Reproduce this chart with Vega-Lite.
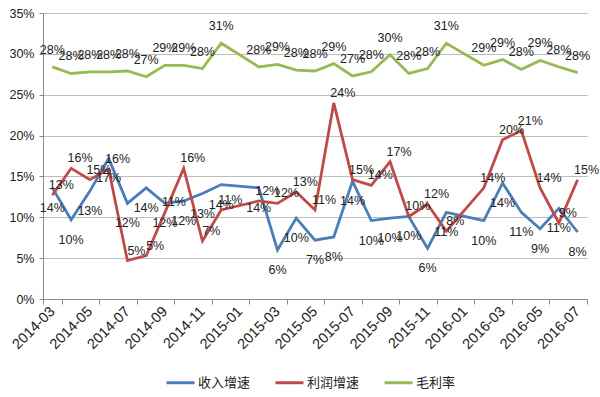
{
  "$schema": "https://vega.github.io/schema/vega-lite/v6.json",
  "width": 544,
  "height": 286,
  "autosize": {"type": "none"},
  "padding": {"left": 43, "top": 13, "right": 13, "bottom": 98},
  "background": "white",
  "config": {
    "font": "Liberation Sans",
    "view": {"stroke": null},
    "axis": {"labelFont": "Liberation Sans", "labelFontSize": 12, "labelColor": "#222", "domainColor": "#8c8c8c", "tickColor": "#8c8c8c", "title": null}
  },
  "datasets": {
    "rows": [
      {"m": "2014-03", "s": "收入增速", "v": 0.136}, {"m": "2014-04", "s": "收入增速", "v": 0.097}, {"m": "2014-05", "s": "收入增速", "v": 0.132}, {"m": "2014-06", "s": "收入增速", "v": 0.172}, {"m": "2014-07", "s": "收入增速", "v": 0.117}, {"m": "2014-08", "s": "收入增速", "v": 0.136}, {"m": "2014-09", "s": "收入增速", "v": 0.117}, {"m": "2014-10", "s": "收入增速", "v": 0.12}, {"m": "2014-11", "s": "收入增速", "v": 0.129}, {"m": "2014-12", "s": "收入增速", "v": 0.14}, {"m": "2015-02", "s": "收入增速", "v": 0.136}, {"m": "2015-03", "s": "收入增速", "v": 0.06}, {"m": "2015-04", "s": "收入增速", "v": 0.099}, {"m": "2015-05", "s": "收入增速", "v": 0.072}, {"m": "2015-06", "s": "收入增速", "v": 0.076}, {"m": "2015-07", "s": "收入增速", "v": 0.144}, {"m": "2015-08", "s": "收入增速", "v": 0.096}, {"m": "2015-09", "s": "收入增速", "v": 0.099}, {"m": "2015-10", "s": "收入增速", "v": 0.101}, {"m": "2015-11", "s": "收入增速", "v": 0.062}, {"m": "2015-12", "s": "收入增速", "v": 0.106}, {"m": "2016-02", "s": "收入增速", "v": 0.096}, {"m": "2016-03", "s": "收入增速", "v": 0.142}, {"m": "2016-04", "s": "收入增速", "v": 0.106}, {"m": "2016-05", "s": "收入增速", "v": 0.086}, {"m": "2016-06", "s": "收入增速", "v": 0.111}, {"m": "2016-07", "s": "收入增速", "v": 0.082},
      {"m": "2014-03", "s": "利润增速", "v": 0.127}, {"m": "2014-04", "s": "利润增速", "v": 0.16}, {"m": "2014-05", "s": "利润增速", "v": 0.146}, {"m": "2014-06", "s": "利润增速", "v": 0.159}, {"m": "2014-07", "s": "利润增速", "v": 0.047}, {"m": "2014-08", "s": "利润增速", "v": 0.053}, {"m": "2014-09", "s": "利润增速", "v": 0.106}, {"m": "2014-10", "s": "利润增速", "v": 0.16}, {"m": "2014-11", "s": "利润增速", "v": 0.071}, {"m": "2014-12", "s": "利润增速", "v": 0.109}, {"m": "2015-02", "s": "利润增速", "v": 0.12}, {"m": "2015-03", "s": "利润增速", "v": 0.117}, {"m": "2015-04", "s": "利润增速", "v": 0.131}, {"m": "2015-05", "s": "利润增速", "v": 0.109}, {"m": "2015-06", "s": "利润增速", "v": 0.24}, {"m": "2015-07", "s": "利润增速", "v": 0.146}, {"m": "2015-08", "s": "利润增速", "v": 0.139}, {"m": "2015-09", "s": "利润增速", "v": 0.168}, {"m": "2015-10", "s": "利润增速", "v": 0.101}, {"m": "2015-11", "s": "利润增速", "v": 0.116}, {"m": "2015-12", "s": "利润增速", "v": 0.083}, {"m": "2016-02", "s": "利润增速", "v": 0.136}, {"m": "2016-03", "s": "利润增速", "v": 0.195}, {"m": "2016-04", "s": "利润增速", "v": 0.206}, {"m": "2016-05", "s": "利润增速", "v": 0.136}, {"m": "2016-06", "s": "利润增速", "v": 0.093}, {"m": "2016-07", "s": "利润增速", "v": 0.146},
      {"m": "2014-03", "s": "毛利率", "v": 0.284}, {"m": "2014-04", "s": "毛利率", "v": 0.276}, {"m": "2014-05", "s": "毛利率", "v": 0.278}, {"m": "2014-06", "s": "毛利率", "v": 0.278}, {"m": "2014-07", "s": "毛利率", "v": 0.279}, {"m": "2014-08", "s": "毛利率", "v": 0.272}, {"m": "2014-09", "s": "毛利率", "v": 0.286}, {"m": "2014-10", "s": "毛利率", "v": 0.286}, {"m": "2014-11", "s": "毛利率", "v": 0.282}, {"m": "2014-12", "s": "毛利率", "v": 0.313}, {"m": "2015-02", "s": "毛利率", "v": 0.284}, {"m": "2015-03", "s": "毛利率", "v": 0.287}, {"m": "2015-04", "s": "毛利率", "v": 0.28}, {"m": "2015-05", "s": "毛利率", "v": 0.279}, {"m": "2015-06", "s": "毛利率", "v": 0.288}, {"m": "2015-07", "s": "毛利率", "v": 0.273}, {"m": "2015-08", "s": "毛利率", "v": 0.278}, {"m": "2015-09", "s": "毛利率", "v": 0.299}, {"m": "2015-10", "s": "毛利率", "v": 0.276}, {"m": "2015-11", "s": "毛利率", "v": 0.282}, {"m": "2015-12", "s": "毛利率", "v": 0.313}, {"m": "2016-02", "s": "毛利率", "v": 0.286}, {"m": "2016-03", "s": "毛利率", "v": 0.293}, {"m": "2016-04", "s": "毛利率", "v": 0.281}, {"m": "2016-05", "s": "毛利率", "v": 0.292}, {"m": "2016-06", "s": "毛利率", "v": 0.284}, {"m": "2016-07", "s": "毛利率", "v": 0.277}
    ]
  },
  "data": {"name": "rows"},
  "encoding": {
    "x": {
      "field": "m",
      "type": "ordinal",
      "bandPosition": 0.5,
      "scale": {
        "type": "band",
        "paddingInner": 0,
        "paddingOuter": 0,
        "domain": ["2014-03","2014-04","2014-05","2014-06","2014-07","2014-08","2014-09","2014-10","2014-11","2014-12","2015-01","2015-02","2015-03","2015-04","2015-05","2015-06","2015-07","2015-08","2015-09","2015-10","2015-11","2015-12","2016-01","2016-02","2016-03","2016-04","2016-05","2016-06","2016-07"]
      },
      "axis": {
        "values": ["2014-03","2014-05","2014-07","2014-09","2014-11","2015-01","2015-03","2015-05","2015-07","2015-09","2015-11","2016-01","2016-03","2016-05","2016-07"],
        "labelAngle": -45,
        "labelAlign": "right",
        "labelBaseline": "middle",
        "labelFontSize": 14.5,
        "labelPadding": 5,
        "tickBand": "extent",
        "tickSize": 5,
        "grid": false,
        "labelOverlap": false
      }
    },
    "y": {
      "field": "v",
      "type": "quantitative",
      "scale": {"domain": [0, 0.35], "nice": false},
      "axis": {
        "values": [0, 0.05, 0.1, 0.15, 0.2, 0.25, 0.3, 0.35],
        "format": ".0%",
        "grid": true,
        "gridColor": "#bdbdbd",
        "tickSize": 4,
        "labelFontSize": 12.5,
        "labelPadding": 5
      }
    }
  },
  "layer": [
    {
      "mark": {"type": "line", "strokeWidth": 2.8},
      "encoding": {
        "color": {
          "field": "s",
          "type": "nominal",
          "scale": {"domain": ["收入增速", "利润增速", "毛利率"], "range": ["#4A7EBB", "#BE4B48", "#98B954"]},
          "legend": {
            "orient": "none",
            "legendX": 122,
            "legendY": 354,
            "direction": "horizontal",
            "columns": 3,
            "title": null,
            "symbolType": "stroke",
            "symbolSize": 784,
            "symbolStrokeWidth": 3,
            "labelFont": "Noto Sans CJK SC",
            "labelFontSize": 13,
            "labelColor": "#222",
            "labelOffset": 2,
            "columnPadding": 18
          }
        }
      }
    },
    {
      "transform": [{"filter": "datum.s === '收入增速'"}],
      "mark": {"type": "text", "dy": 20, "fontSize": 12.5, "color": "#222", "font": "Liberation Sans"},
      "encoding": {"text": {"field": "v", "type": "quantitative", "format": ".0%"}}
    },
    {
      "transform": [{"filter": "datum.s === '利润增速'"}],
      "mark": {"type": "text", "dx": 9, "dy": -10, "fontSize": 12.5, "color": "#222", "font": "Liberation Sans"},
      "encoding": {"text": {"field": "v", "type": "quantitative", "format": ".0%"}}
    },
    {
      "transform": [{"filter": "datum.s === '毛利率'"}],
      "mark": {"type": "text", "dy": -17, "fontSize": 12.5, "color": "#222", "font": "Liberation Sans"},
      "encoding": {"text": {"field": "v", "type": "quantitative", "format": ".0%"}}
    }
  ]
}
